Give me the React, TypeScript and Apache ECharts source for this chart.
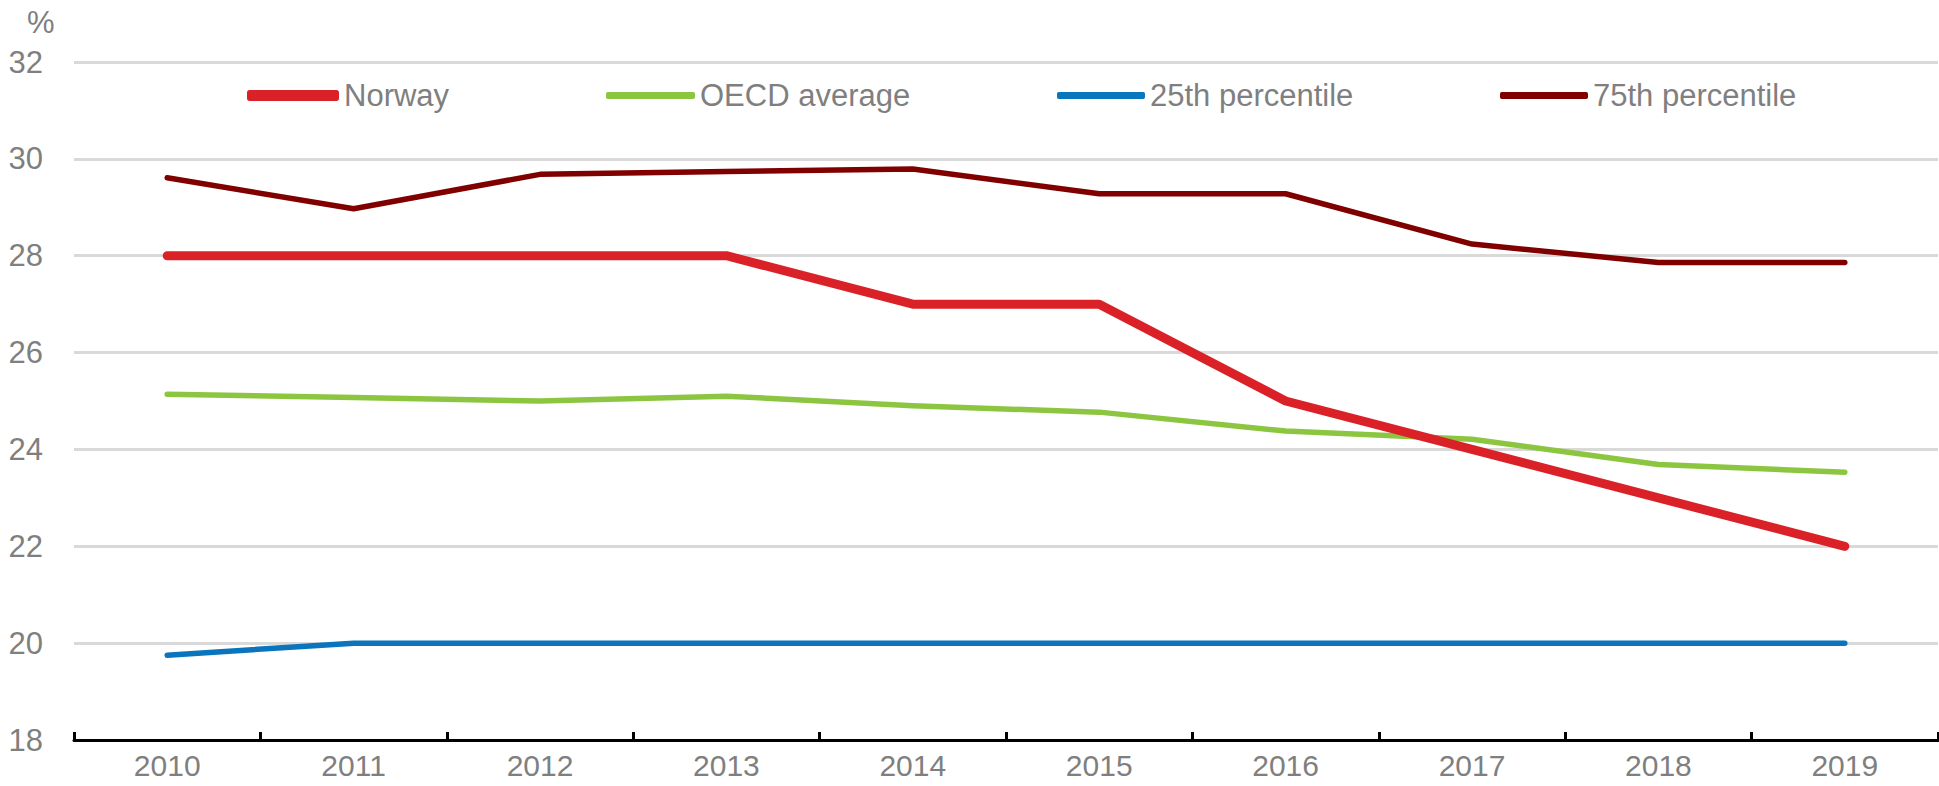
import React, { useEffect, useRef } from "react";
import * as echarts from "echarts";

const years = ["2010", "2011", "2012", "2013", "2014", "2015", "2016", "2017", "2018", "2019"];
const norway = [28, 28, 28, 28, 27, 27, 25, 24, 23, 22];
const oecdAverage = [25.14, 25.07, 25.0, 25.1, 24.9, 24.77, 24.38, 24.21, 23.69, 23.53];
const p25 = [19.75, 20, 20, 20, 20, 20, 20, 20, 20, 20];
const p75 = [29.61, 28.97, 29.68, 29.74, 29.79, 29.28, 29.28, 28.24, 27.86, 27.86];

const FONT = "'Liberation Sans Narrow', 'Arial Narrow', 'Liberation Sans', Arial, sans-serif";
const GRAY = "#7f7f7f";
const FS = 31;

const seriesDefs = [
  { name: "Norway", data: norway, color: "#da2128", width: 9, legendH: 11, legendW: 92, left: 247 },
  { name: "OECD average", data: oecdAverage, color: "#8cc641", width: 5.5, legendH: 7, legendW: 89, left: 606 },
  { name: "25th percentile", data: p25, color: "#0a74bd", width: 5.5, legendH: 7, legendW: 88, left: 1057 },
  { name: "75th percentile", data: p75, color: "#800000", width: 5.5, legendH: 7, legendW: 88, left: 1500 },
];

export default function App() {
  const ref = useRef<HTMLDivElement>(null);
  useEffect(() => {
    if (!ref.current) return;
    const chart = echarts.init(ref.current, undefined, { renderer: "svg" });
    chart.setOption({
      animation: false,
      textStyle: { fontFamily: FONT },
      grid: { left: 74, right: 1, top: 62, bottom: 46, containLabel: false },
      legend: seriesDefs.map((s) => ({
        data: [s.name],
        left: s.left,
        top: 80,
        padding: 0,
        icon: "roundRect",
        itemWidth: s.legendW,
        itemHeight: s.legendH,
        itemStyle: { color: s.color, borderWidth: 0 },
        textStyle: { fontSize: FS, color: GRAY, fontFamily: FONT, padding: [0, 0, 0, 0] },
        selectedMode: false,
      })),
      xAxis: {
        type: "category",
        data: years,
        boundaryGap: true,
        axisLine: { show: true, lineStyle: { color: "#000", width: 3 } },
        axisTick: { show: true, inside: true, length: 8, lineStyle: { color: "#000", width: 3 } },
        axisLabel: { fontSize: 30, color: GRAY, fontFamily: FONT, margin: 10, lineHeight: 30 },
        splitLine: { show: false },
      },
      yAxis: {
        type: "value",
        min: 18,
        max: 32,
        interval: 2,
        axisLine: { show: false },
        axisTick: { show: false },
        axisLabel: { fontSize: FS, color: GRAY, fontFamily: FONT, margin: 31 },
        splitLine: { show: true, lineStyle: { color: "#d9d9d9", width: 3 } },
      },
      graphic: [
        {
          type: "text",
          left: 27,
          top: 7,
          style: { text: "%", fontSize: FS, fill: GRAY, fontFamily: FONT },
        },
      ],
      series: seriesDefs.map((s) => ({
        name: s.name,
        type: "line",
        data: s.data,
        symbol: "none",
        showSymbol: false,
        color: s.color,
        lineStyle: { color: s.color, width: s.width, cap: "round", join: "round" },
        z: s.name === "Norway" ? 3 : 2,
      })),
    });
    return () => chart.dispose();
  }, []);
  return (
    <div
      ref={ref}
      style={{ position: "fixed", left: 0, top: 0, width: 1939, height: 786, background: "#fff" }}
    />
  );
}
